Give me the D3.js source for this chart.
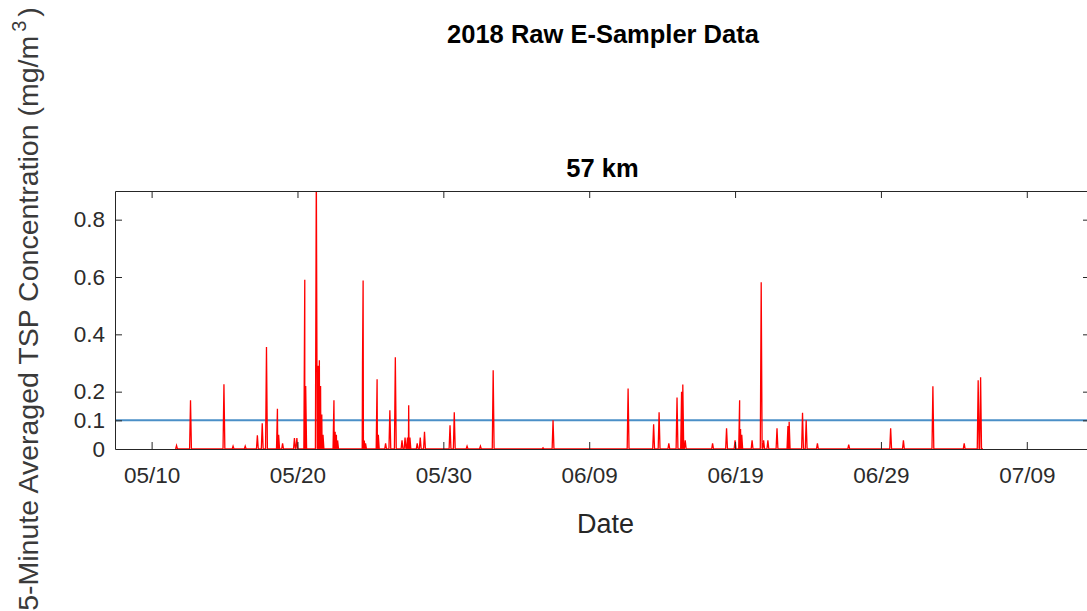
<!DOCTYPE html>
<html>
<head>
<meta charset="utf-8">
<script src="https://cdn.jsdelivr.net/npm/d3@7"></script>
<style>
  html, body { margin: 0; padding: 0; background: #fff; }
  svg { display: block; }
  text { font-family: "Liberation Sans", Arial, Helvetica, sans-serif; }
</style>
</head>
<body>
<svg id="chart" width="1087" height="611"></svg>
<script>
// 5-minute averaged TSP concentration (mg/m^3), 57 km E-Sampler, 2018
const readingTimes = [
  "2018-05-11T17:00", "2018-05-12T16:00", "2018-05-14T23:00", "2018-05-15T14:00",
  "2018-05-16T10:00", "2018-05-17T06:00", "2018-05-17T14:00", "2018-05-17T21:00",
  "2018-05-18T15:00", "2018-05-18T17:00", "2018-05-18T23:30", "2018-05-19T19:00",
  "2018-05-19T23:00", "2018-05-20T12:00", "2018-05-20T13:30", "2018-05-21T07:00",
  "2018-05-21T10:00", "2018-05-21T12:00", "2018-05-21T14:00", "2018-05-21T16:00",
  "2018-05-21T18:00", "2018-05-22T12:00", "2018-05-22T14:00", "2018-05-22T16:00",
  "2018-05-22T18:00", "2018-05-24T11:00", "2018-05-24T12:00", "2018-05-24T14:00",
  "2018-05-24T16:00", "2018-05-25T11:00", "2018-05-25T13:00", "2018-05-26T01:00",
  "2018-05-26T08:00", "2018-05-26T17:00", "2018-05-27T04:00", "2018-05-27T09:00",
  "2018-05-27T13:00", "2018-05-27T15:00", "2018-05-27T17:00", "2018-05-28T05:00",
  "2018-05-28T10:00", "2018-05-28T17:00", "2018-05-30T11:00", "2018-05-30T18:00",
  "2018-05-31T15:00", "2018-06-01T13:00", "2018-06-02T10:00", "2018-06-05T20:00",
  "2018-06-06T12:30", "2018-06-11T16:00", "2018-06-13T10:00", "2018-06-13T19:00",
  "2018-06-14T11:00", "2018-06-15T00:30", "2018-06-15T08:00", "2018-06-15T10:00",
  "2018-06-15T14:00", "2018-06-17T11:00", "2018-06-18T10:00", "2018-06-19T00:00",
  "2018-06-19T07:30", "2018-06-19T09:00", "2018-06-19T11:00", "2018-06-20T04:00",
  "2018-06-20T19:00", "2018-06-20T23:00", "2018-06-21T06:00", "2018-06-21T21:00",
  "2018-06-22T15:00", "2018-06-22T17:00", "2018-06-23T15:00", "2018-06-23T21:00",
  "2018-06-24T15:30", "2018-06-26T19:00", "2018-06-29T16:00", "2018-06-30T13:00",
  "2018-07-02T13:30", "2018-07-04T17:00", "2018-07-05T16:00", "2018-07-05T20:00"
];
const readingValues = [
  0.012, 0.170, 0.226, 0.010,
  0.010, 0.048, 0.090, 0.356,
  0.140, 0.050, 0.020, 0.038,
  0.038, 0.590, 0.220, 0.980,
  0.290, 0.310, 0.220, 0.120,
  0.050, 0.170, 0.060, 0.050,
  0.030, 0.300, 0.588, 0.030,
  0.020, 0.243, 0.050, 0.020,
  0.135, 0.320, 0.030, 0.040,
  0.040, 0.153, 0.040, 0.020,
  0.040, 0.060, 0.083, 0.128,
  0.010, 0.010, 0.275, 0.004,
  0.100, 0.211, 0.086, 0.128,
  0.020, 0.180, 0.200, 0.225,
  0.030, 0.020, 0.072, 0.030,
  0.170, 0.070, 0.050, 0.030,
  0.582, 0.030, 0.030, 0.072,
  0.080, 0.095, 0.126, 0.100,
  0.020, 0.015, 0.072, 0.030,
  0.219, 0.020, 0.240, 0.250
];
// sampler record start / end (concentration ~0 between events)
const recordStart = "2018-05-11T15:00";
const recordEnd = "2018-07-06T00:00";
// half-width of each 5-minute event on the time axis, in hours
const eventHalfHours = 1.5;

const threshold = 0.1;
const xDomain = ["2018-05-07T11:45", "2018-07-13T08:00"];
const xTickDates = ["2018-05-10", "2018-05-20", "2018-05-30", "2018-06-09", "2018-06-19", "2018-06-29", "2018-07-09"];
const yTicks = [0, 0.1, 0.2, 0.4, 0.6, 0.8];
const yMax = 0.9;

const titleText = "2018 Raw E-Sampler Data";
const subtitleText = "57 km";
const xLabelText = "Date";
const yLabelText = "5-Minute Averaged TSP Concentration (mg/m";

const parseT = d3.timeParse("%Y-%m-%dT%H:%M");
const parseD = d3.timeParse("%Y-%m-%d");

const svg = d3.select("#chart");
const plot = { left: 115, right: 1090, top: 191, bottom: 449 };

const x = d3.scaleTime()
  .domain(xDomain.map(parseT))
  .range([plot.left, plot.right]);
const y = d3.scaleLinear()
  .domain([0, yMax])
  .range([plot.bottom, plot.top]);

// build the trace: baseline at zero between events, narrow peak at each event
const hw = eventHalfHours * 3600 * 1000;
const trace = [{ t: parseT(recordStart), v: 0 }];
readingTimes.forEach((s, i) => {
  const t = parseT(s);
  trace.push({ t: new Date(+t - hw), v: 0 });
  trace.push({ t: t, v: readingValues[i] });
  trace.push({ t: new Date(+t + hw), v: 0 });
});
trace.push({ t: parseT(recordEnd), v: 0 });
trace.sort((a, b) => a.t - b.t);

svg.append("defs").append("clipPath").attr("id", "plotClip")
  .append("rect")
  .attr("x", plot.left).attr("y", plot.top)
  .attr("width", plot.right - plot.left).attr("height", plot.bottom - plot.top);

const axisColor = "#262626";
const tickFont = 22.5;

// threshold line
svg.append("line")
  .attr("clip-path", "url(#plotClip)")
  .attr("x1", plot.left).attr("x2", plot.right)
  .attr("y1", y(threshold)).attr("y2", y(threshold))
  .attr("stroke", "#4a8fc7").attr("stroke-width", 2);

// concentration trace
const line = d3.line().x(d => x(d.t)).y(d => y(d.v));
svg.append("path")
  .datum(trace)
  .attr("clip-path", "url(#plotClip)")
  .attr("d", line)
  .attr("fill", "none")
  .attr("stroke", "#ff0000")
  .attr("stroke-width", 1.3)
  .attr("stroke-linejoin", "miter");

// axes (box with inward ticks)
const tickVals = xTickDates.map(parseD);
const tickLen = 7;

const xAxisBottom = d3.axisBottom(x)
  .tickValues(tickVals)
  .tickFormat(d3.timeFormat("%m/%d"))
  .tickSizeInner(-tickLen).tickSizeOuter(0).tickPadding(tickLen + 11);
const gxb = svg.append("g").attr("transform", `translate(0,${plot.bottom})`).call(xAxisBottom);

const xAxisTop = d3.axisTop(x).tickValues(tickVals).tickFormat("")
  .tickSizeInner(-tickLen).tickSizeOuter(0);
const gxt = svg.append("g").attr("transform", `translate(0,${plot.top})`).call(xAxisTop);

const yAxisLeft = d3.axisLeft(y).tickValues(yTicks).tickFormat(d3.format("~g"))
  .tickSizeInner(-tickLen).tickSizeOuter(0).tickPadding(tickLen + 3);
const gyl = svg.append("g").attr("transform", `translate(${plot.left},0)`).call(yAxisLeft);

const yAxisRight = d3.axisRight(y).tickValues(yTicks).tickFormat("")
  .tickSizeInner(-tickLen).tickSizeOuter(0);
const gyr = svg.append("g").attr("transform", `translate(${plot.right},0)`).call(yAxisRight);

[gxb, gxt, gyl, gyr].forEach(g => {
  g.select(".domain").attr("stroke", axisColor).attr("stroke-width", 1);
  g.selectAll(".tick line").attr("stroke", axisColor).attr("stroke-width", 1);
  g.selectAll(".tick text")
    .attr("fill", "#2b2b2b")
    .style("font-size", tickFont + "px")
    .style("font-family", '"Liberation Sans", Arial, sans-serif');
});
// no tick mark drawn at 0 on the y axis sides (it sits on the box edge)
gyl.selectAll(".tick").filter(d => d === 0).select("line").remove();
gyr.selectAll(".tick").filter(d => d === 0).select("line").remove();

// titles
svg.append("text")
  .attr("x", 603).attr("y", 43)
  .attr("text-anchor", "middle")
  .style("font-size", "25.5px").style("font-weight", "bold")
  .attr("fill", "#000")
  .text(titleText);

svg.append("text")
  .attr("x", 602.5).attr("y", 177)
  .attr("text-anchor", "middle")
  .style("font-size", "25.5px").style("font-weight", "bold")
  .attr("fill", "#000")
  .text(subtitleText);

svg.append("text")
  .attr("x", (plot.left + plot.right) / 2 + 3).attr("y", 533)
  .attr("text-anchor", "middle")
  .style("font-size", "27px")
  .attr("fill", axisColor)
  .text(xLabelText);

const yl = svg.append("text")
  .attr("transform", `translate(38,309) rotate(-90)`)
  .attr("text-anchor", "middle")
  .style("font-size", "28.5px")
  .attr("fill", "#3a3a3a");
yl.append("tspan").text(yLabelText);
yl.append("tspan").attr("dx", 4).attr("dy", -12).style("font-size", "20px").text("3");
yl.append("tspan").attr("dx", 4).attr("dy", 12).text(")");
</script>
</body>
</html>
